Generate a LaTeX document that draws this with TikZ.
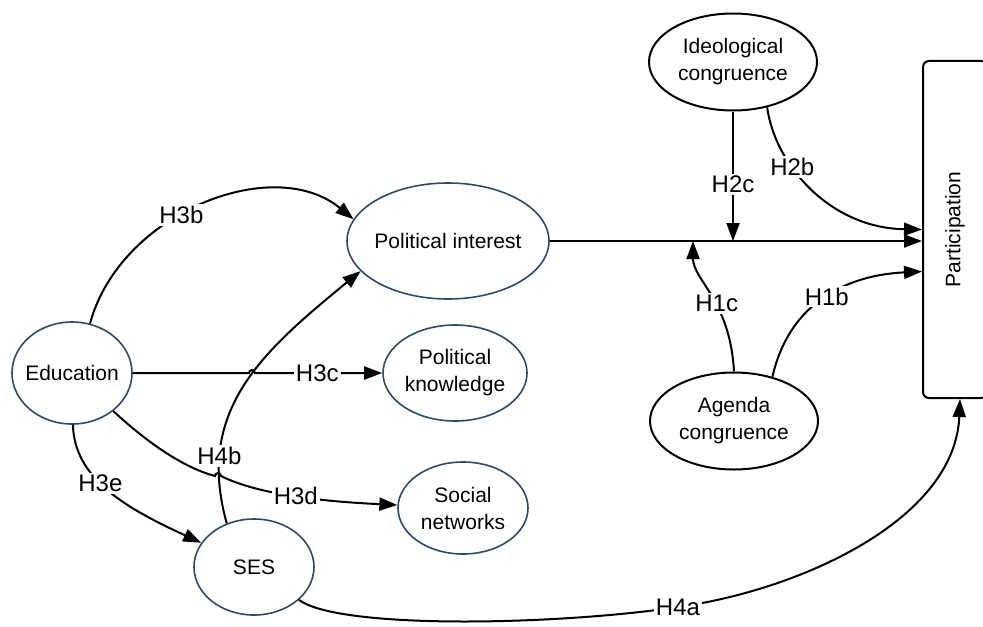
\documentclass[tikz,border=0pt]{standalone}
\usepackage{fontspec}
\setmainfont{Liberation Sans}
\usetikzlibrary{arrows.meta,shapes.geometric}
\definecolor{ellblue}{RGB}{45,75,105}
\begin{document}
\begin{tikzpicture}[x=0.5pt, y=-0.5pt,
        every node/.style={align=center, font=\fontsize{10.5}{13.5}\selectfont},
        var/.style={ellipse, draw=ellblue, line width=0.8pt, inner sep=-3pt},
        cong/.style={ellipse, draw, line width=1pt, inner sep=0pt, minimum width=84pt, minimum height=48.5pt},
        lbl/.style={fill=white, inner sep=1pt, font=\fontsize{12}{14}\selectfont},
        link/.style={line width=1pt},
        arr/.style={link, -{Triangle[length=9pt, width=6.5pt]}}]
        \useasboundingbox (0,0) rectangle (983,626);
        \clip (0,0) rectangle (983,626);
        \node[var, minimum width=60pt, minimum height=51pt] (edu) at (72,373) {Education};
        \node[var, minimum width=60pt, minimum height=48pt] (ses) at (254,567) {SES};
        \node[var, minimum width=101pt, minimum height=58pt] (polint) at (448,241) {Political interest};
        \node[var, minimum width=72pt, minimum height=48pt] (polknow) at (455,373) {Political\\knowledge};
        \node[var, minimum width=65pt, minimum height=46pt] (socnet) at (463,508) {Social\\networks};
        \node[cong] (ideo) at (733,62) {Ideological\\congruence};
        \node[cong] (agenda) at (734,421) {Agenda\\congruence};
        \node[draw, link, rounded corners=3pt, minimum width=32pt, minimum height=168.5pt] (part) at (955,229.5) {\rotatebox{90}{Participation}};

        \draw[arr] (edu.70) .. controls (120,213) and (273,153) .. node[lbl, pos=0.43] {H3b} (polint.167);
        \draw[arr] (edu) -- (249,373) arc[start angle=180, end angle=360, radius=3] -- node[lbl, pos=0.49] {H3c} (polknow);
        \draw[arr] (edu) .. controls (150,445) and (185,468) .. (215,476) arc[start angle=180, end angle=360, radius=3] .. controls (245,488) and (290,500) .. node[lbl, pos=0.6] {H3d} (socnet);
        \draw[arr] (edu) .. controls (74,480) and (130,510) .. node[lbl, pos=0.42] {H3e} (ses);
        \draw[arr] (ses.122) .. controls (195,410) and (262,352) .. node[lbl, pos=0.22] {H4b} (polint.199);
        \draw[arr] (ses) .. controls (340,630) and (560,625) .. (678,607) node[lbl] {H4a} .. controls (800,590) and (955,520) .. ([xshift=2.5pt]part.south);

        \draw[arr] (polint) -- (polint -| part.west);
        \coordinate (j2) at (ideo.south |- polint.east);
        \coordinate (j1) at ([xshift=-20pt]j2);
        \draw[arr] (ideo) -- node[lbl, pos=0.56] {H2c} (j2);
        \draw[arr] (ideo.-53) .. controls (775,165) and (830,228) .. node[lbl, pos=0.35] {H2b} (part.west);
        \draw[arr] (agenda.north) .. controls (730,300) and (693,280) .. node[lbl, pos=0.42] {H1c} (j1);
        \draw[arr] (agenda.49) .. controls (790,300) and (850,275) .. node[lbl, pos=0.5] {H1b} ([yshift=-21pt]part.west);
\end{tikzpicture}
\end{document}
